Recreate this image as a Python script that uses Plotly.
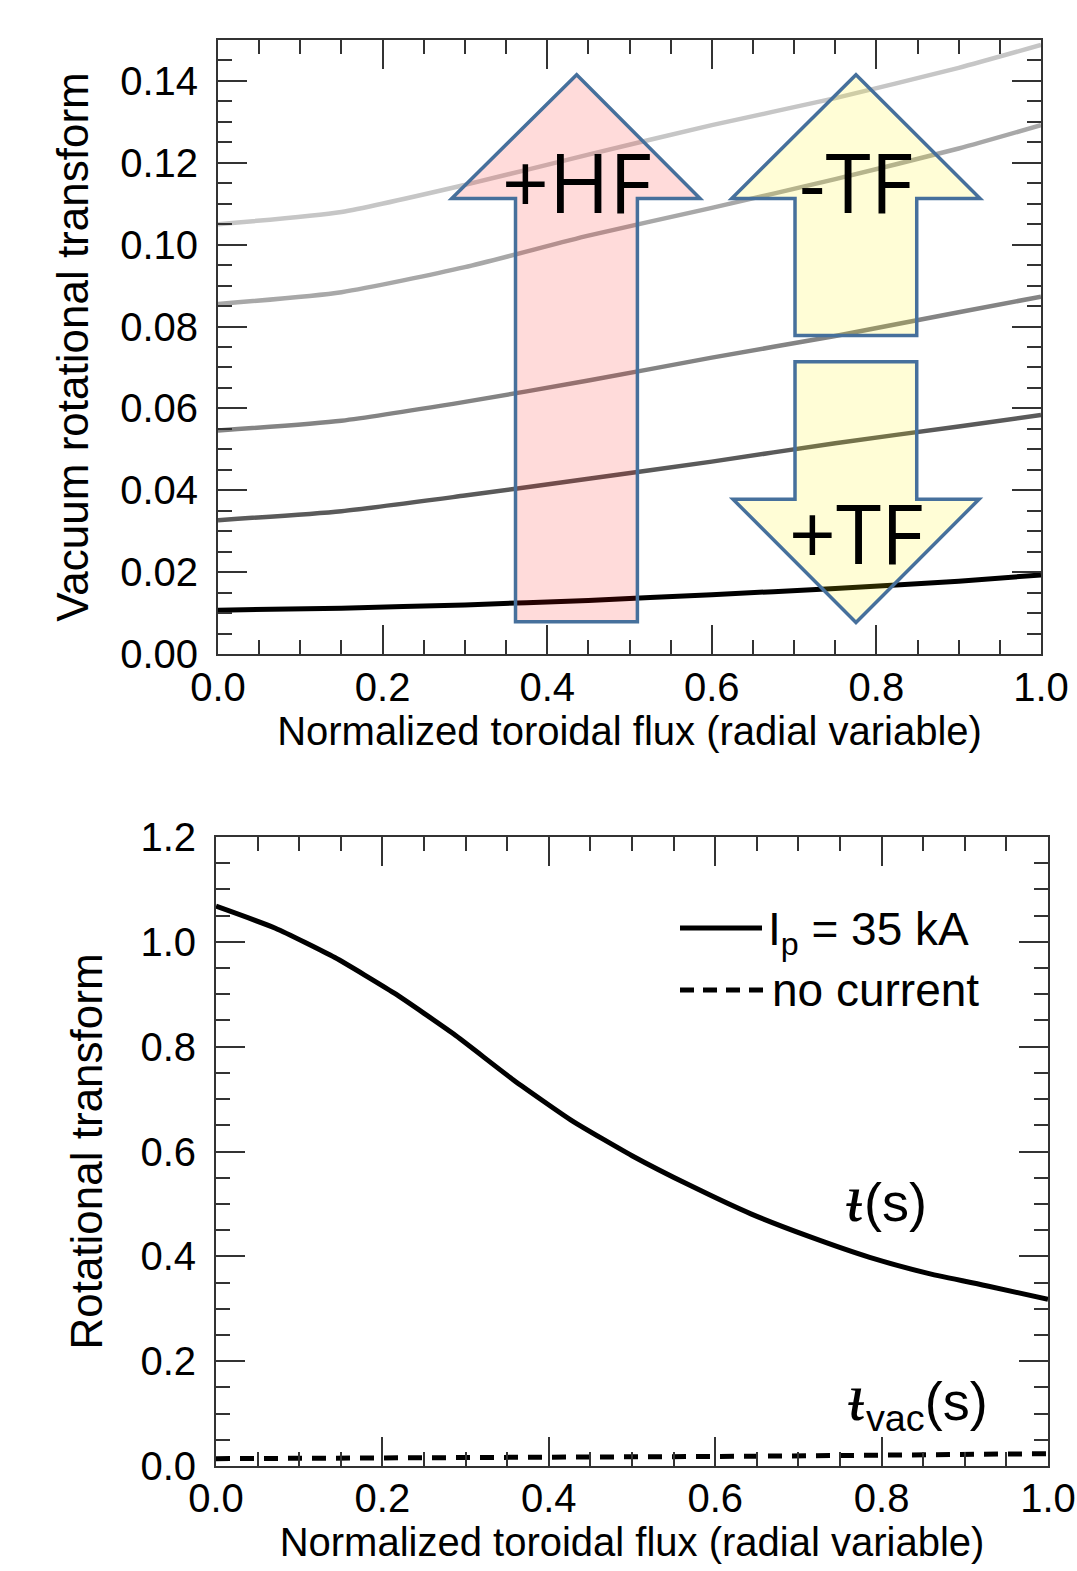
import plotly.graph_objects as go

# ---------------- data ----------------
# top panel: vacuum rotational transform for five coil configurations
s_vac = [0.0, 0.15, 0.30, 0.45, 0.60, 0.75, 0.90, 1.00]
iota_vac_1 = [0.0107, 0.0112, 0.0120, 0.0131, 0.0145, 0.0160, 0.0178, 0.0193]
iota_vac_2 = [0.0327, 0.0349, 0.0387, 0.0428, 0.0470, 0.0515, 0.0556, 0.0584]
iota_vac_3 = [0.0546, 0.0570, 0.0616, 0.0668, 0.0724, 0.0777, 0.0835, 0.0873]
iota_vac_4 = [0.0855, 0.0884, 0.0945, 0.1022, 0.1090, 0.1160, 0.1235, 0.1292]
iota_vac_5 = [0.1050, 0.1080, 0.1146, 0.1220, 0.1292, 0.1358, 0.1432, 0.1488]
top_series = [iota_vac_1, iota_vac_2, iota_vac_3, iota_vac_4, iota_vac_5]
top_colors = ["#000000", "#5a5a5a", "#848484", "#a8a8a8", "#c6c6c6"]
top_widths = [5, 4.5, 4.5, 4.5, 4.5]

# bottom panel
s_ip = [0.0, 0.0714, 0.1429, 0.2143, 0.2857, 0.3571, 0.4286, 0.5,
        0.5714, 0.6429, 0.7143, 0.7857, 0.8571, 0.9286, 1.0]
iota_ip = [1.068, 1.026, 0.970, 0.902, 0.824, 0.737, 0.658, 0.592,
           0.534, 0.481, 0.437, 0.398, 0.367, 0.343, 0.318]
s_nocur = [0.0, 0.15, 0.30, 0.45, 0.60, 0.75, 0.90, 1.00]
iota_nocur = [0.0140, 0.0145, 0.0155, 0.0168, 0.0182, 0.0200, 0.0220, 0.0235]

x_ticks = [0.0, 0.2, 0.4, 0.6, 0.8, 1.0]
top_y_ticks = [0.00, 0.02, 0.04, 0.06, 0.08, 0.10, 0.12, 0.14]
bot_y_ticks = [0.0, 0.2, 0.4, 0.6, 0.8, 1.0, 1.2]

# ---------------- figure ----------------
W, H = 1077, 1571
fig = go.Figure()

for vals, col, lw in zip(top_series, top_colors, top_widths):
    fig.add_trace(go.Scatter(x=s_vac, y=vals, mode="lines", xaxis="x", yaxis="y",
                             line=dict(color=col, width=lw, shape="spline", smoothing=0.6),
                             showlegend=False))

fig.add_trace(go.Scatter(x=s_ip, y=iota_ip, mode="lines", xaxis="x2", yaxis="y2",
                         line=dict(color="black", width=5, shape="spline", smoothing=0.5),
                         showlegend=False))
fig.add_trace(go.Scatter(x=s_nocur, y=iota_nocur, mode="lines", xaxis="x2", yaxis="y2",
                         line=dict(color="black", width=5, dash="14px,10px"),
                         showlegend=False))

FONT = "Liberation Sans, Arial, Helvetica, sans-serif"
AX = "#333333"

def axis_style(**kw):
    d = dict(showline=True, linecolor=AX, linewidth=2, mirror="allticks",
             ticks="inside", ticklen=29, tickwidth=1.5, tickcolor=AX,
             showgrid=False, zeroline=False, automargin=False,
             tickfont=dict(family=FONT, size=40, color="black"))
    d.update(kw)
    return d

fig.update_layout(
    width=W, height=H,
    margin=dict(l=0, r=0, t=0, b=0),
    paper_bgcolor="white", plot_bgcolor="white",
    xaxis=axis_style(domain=[218 / W, 1041 / W], range=[0, 1], anchor="y",
                     tickvals=x_ticks, ticktext=[f"{v:.1f}" for v in x_ticks],
                     ticklabelstandoff=-3,
                     minor=dict(ticks="inside", ticklen=14, tickwidth=1.5, tickcolor=AX, dtick=0.05),
                     title=dict(text="Normalized toroidal flux (radial variable)",
                                font=dict(family=FONT, size=40, color="black"), standoff=4)),
    yaxis=axis_style(domain=[1 - 654 / H, 1 - 40 / H], range=[0, 0.15], anchor="x",
                     tickvals=top_y_ticks, ticktext=[f"{v:.2f}" for v in top_y_ticks],
                     ticklabelstandoff=10,
                     minor=dict(ticks="inside", ticklen=14, tickwidth=1.5, tickcolor=AX, dtick=0.005),
                     title=dict(text="Vacuum rotational transform",
                                font=dict(family=FONT, size=44, color="black"), standoff=18)),
    xaxis2=axis_style(domain=[216 / W, 1048 / W], range=[0, 1], anchor="y2",
                      tickvals=x_ticks, ticktext=[f"{v:.1f}" for v in x_ticks],
                      ticklabelstandoff=-4,
                      minor=dict(ticks="inside", ticklen=14, tickwidth=1.5, tickcolor=AX, dtick=0.05),
                      title=dict(text="Normalized toroidal flux (radial variable)",
                                 font=dict(family=FONT, size=40, color="black"), standoff=4)),
    yaxis2=axis_style(domain=[1 - 1466 / H, 1 - 837 / H], range=[0, 1.2], anchor="x2",
                      tickvals=bot_y_ticks, ticktext=[f"{v:.1f}" for v in bot_y_ticks],
                      ticklabelstandoff=10,
                      minor=dict(ticks="inside", ticklen=14, tickwidth=1.5, tickcolor=AX, dtick=0.05),
                      title=dict(text="Rotational transform",
                                 font=dict(family=FONT, size=44, color="black"), standoff=24)),
)

# ---------------- arrows (annotation graphics, data coords of top panel) ----------------
OUT = "#46709c"
def up_arrow(xl, xr, hl, hr, xt, ybot, ybase, ytip):
    return (f"M {xl} {ybot} L {xr} {ybot} L {xr} {ybase} L {hr} {ybase} L {xt} {ytip} "
            f"L {hl} {ybase} L {xl} {ybase} Z")

hf = up_arrow(0.3615, 0.5096, 0.284, 0.5857, 0.4358, 0.0079, 0.1113, 0.1415)
mtf = up_arrow(0.7011, 0.8490, 0.6242, 0.9259, 0.7752, 0.0778, 0.1113, 0.1415)
ptf = up_arrow(0.7011, 0.8490, 0.6258, 0.9247, 0.7752, 0.0714, 0.0378, 0.0077)

fig.add_shape(type="path", path=hf, xref="x", yref="y", layer="above",
              fillcolor="rgba(252,10,0,0.145)", line=dict(color=OUT, width=3.5))
fig.add_shape(type="path", path=mtf, xref="x", yref="y", layer="above",
              fillcolor="rgba(255,245,0,0.16)", line=dict(color=OUT, width=3.5))
fig.add_shape(type="path", path=ptf, xref="x", yref="y", layer="above",
              fillcolor="rgba(255,245,0,0.16)", line=dict(color=OUT, width=3.5))

AFONT = dict(family="Open Sans, Noto Sans, sans-serif", size=82, color="black")
fig.add_annotation(x=0.4358, y=0.1155, xref="x", yref="y", text="+HF", showarrow=False, font=AFONT)
fig.add_annotation(x=0.7752, y=0.1155, xref="x", yref="y", text="-TF", showarrow=False, font=AFONT)
fig.add_annotation(x=0.7752, y=0.0298, xref="x", yref="y", text="+TF", showarrow=False, font=AFONT)

# ---------------- bottom legend (manual) ----------------
LF = dict(family=FONT, size=46, color="black")
fig.add_shape(type="line", xref="paper", yref="paper",
              x0=680 / W, x1=762 / W, y0=1 - 928 / H, y1=1 - 928 / H,
              line=dict(color="black", width=5))
fig.add_shape(type="line", xref="paper", yref="paper",
              x0=680 / W, x1=766 / W, y0=1 - 990 / H, y1=1 - 990 / H,
              line=dict(color="black", width=5, dash="14px,9px"))
fig.add_annotation(x=766 / W, y=1 - 933 / H, xref="paper", yref="paper", xanchor="left",
                   yanchor="middle", text="I<sub>p</sub> = 35 kA", showarrow=False, font=LF)
fig.add_annotation(x=770 / W, y=1 - 990 / H, xref="paper", yref="paper", xanchor="left",
                   yanchor="middle", text="no current", showarrow=False, font=LF)

# iota-bar labels (U+1D7C latin small letter iota with stroke)
IOTA = '<span style="font-family:DejaVu Sans;font-size:68px"><i>\u1d7c</i></span>'
IFONT = dict(family=FONT, size=54, color="black")
fig.add_annotation(x=843 / W, y=1 - 1197 / H, xref="paper", yref="paper", xanchor="left",
                   yanchor="middle", text=IOTA + "(s)", showarrow=False, font=IFONT)
fig.add_annotation(x=845 / W, y=1 - 1398 / H, xref="paper", yref="paper", xanchor="left",
                   yanchor="middle", text=IOTA + "<sub>vac</sub>(s)", showarrow=False, font=IFONT)

fig.write_html("out.html")
